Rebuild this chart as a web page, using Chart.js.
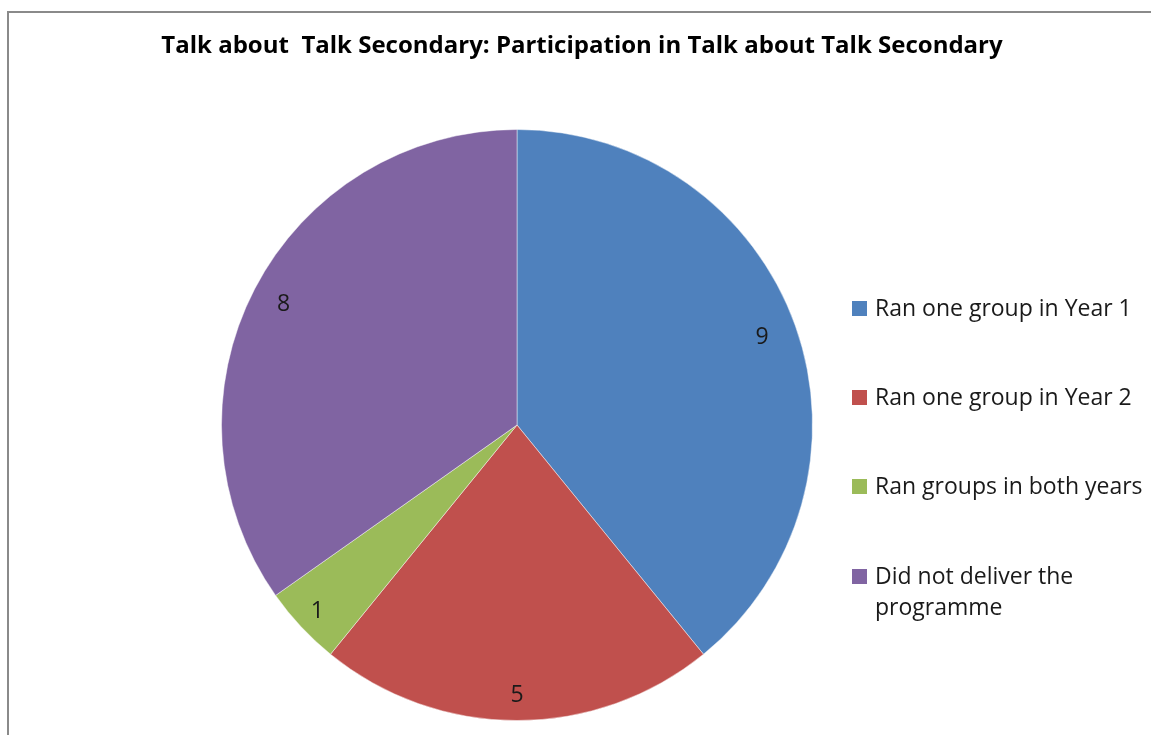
<!DOCTYPE html>
<html>
<head>
<meta charset="utf-8">
<script src="https://cdn.jsdelivr.net/npm/chart.js@4"></script>
<style>
  html, body { margin: 0; padding: 0; background: #ffffff; }
  #wrap { position: relative; width: 1151px; height: 735px; }
</style>
</head>
<body>
<div id="wrap"><canvas id="c" width="1151" height="735"></canvas></div>
<script>
const chartTitle = "Talk about  Talk Secondary: Participation in Talk about Talk Secondary";
const categories = ["Ran one group in Year 1", "Ran one group in Year 2", "Ran groups in both years", "Did not deliver the programme"];
const legendLines = [["Ran one group in Year 1"], ["Ran one group in Year 2"], ["Ran groups in both years"], ["Did not deliver the", "programme"]];
const values = [9, 5, 1, 8];
const colors = ["#4F81BD", "#C0504D", "#9BBB59", "#8064A2"];
// style: how far out (fraction of radius) each value label sits
const labelDist = [0.88, 0.915, 0.925, 0.89];

const FONT = '"Open Sans", "Liberation Sans", sans-serif';

const decor = {
  id: 'decor',
  beforeDraw(chart) {
    const ctx = chart.ctx;
    ctx.save();
    ctx.fillStyle = '#ffffff';
    ctx.fillRect(0, 0, chart.width, chart.height);
    ctx.fillStyle = '#8a8a8a';
    ctx.fillRect(7, 11, chart.width - 7, 2);
    ctx.fillRect(7, 11, 2, chart.height - 11);
    ctx.restore();
  },
  afterDraw(chart) {
    const ctx = chart.ctx;
    ctx.save();
    // Title
    ctx.fillStyle = '#000000';
    ctx.font = 'bold 24px ' + FONT;
    ctx.textAlign = 'center';
    ctx.textBaseline = 'middle';
    ctx.fillText(chartTitle, 582, 46);

    // Value labels
    const meta = chart.getDatasetMeta(0);
    ctx.font = '23px ' + FONT;
    ctx.fillStyle = '#1a1a1a';
    meta.data.forEach((arc, i) => {
      const mid = (arc.startAngle + arc.endAngle) / 2;
      const r = arc.outerRadius * labelDist[i];
      const x = arc.x + Math.cos(mid) * r;
      const y = arc.y + Math.sin(mid) * r;
      ctx.fillText(String(chart.data.datasets[0].data[i]), x, y);
    });

    // Legend
    const rowY = [309, 398, 487, 577];
    ctx.textAlign = 'left';
    ctx.font = '23px ' + FONT;
    legendLines.forEach((lines, i) => {
      const y = rowY[i];
      ctx.fillStyle = colors[i];
      ctx.fillRect(852, y - 8, 15, 15);
      ctx.fillStyle = '#1a1a1a';
      lines.forEach((t, j) => {
        ctx.fillText(t, 875, y + j * 31);
      });
    });
    ctx.restore();
  }
};

new Chart(document.getElementById('c'), {
  type: 'pie',
  data: {
    labels: categories,
    datasets: [{
      data: values,
      backgroundColor: colors,
      borderColor: 'rgba(255,255,255,0.45)',
      borderWidth: 1
    }]
  },
  options: {
    responsive: false,
    devicePixelRatio: 1,
    animation: false,
    layout: { padding: { left: 221, top: 129, right: 338, bottom: 14 } },
    plugins: {
      legend: { display: false },
      title: { display: false },
      tooltip: { enabled: false }
    }
  },
  plugins: [decor]
});
</script>
</body>
</html>
